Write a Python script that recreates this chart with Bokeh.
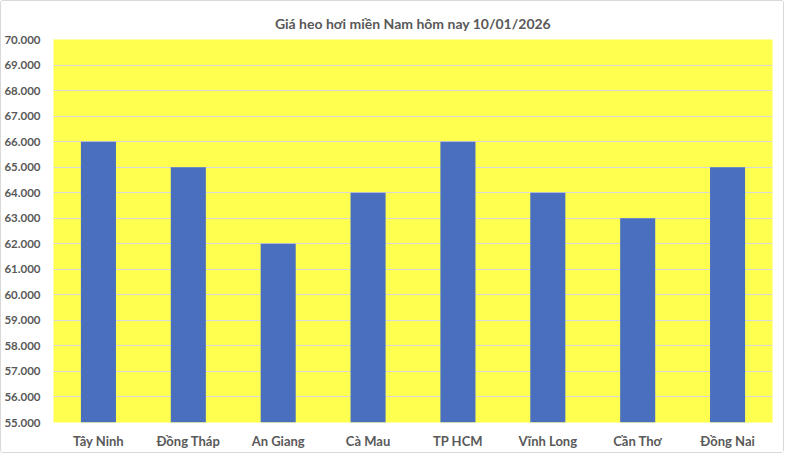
from bokeh.plotting import figure
from bokeh.embed import file_html
from bokeh.resources import INLINE
from bokeh.models import FixedTicker, Label

# data
provinces = ["Tây Ninh", "Đồng Tháp", "An Giang", "Cà Mau",
             "TP HCM", "Vĩnh Long", "Cần Thơ", "Đồng Nai"]
prices = [66000, 65000, 62000, 64000, 66000, 64000, 63000, 65000]
y_ticks = list(range(55000, 70001, 1000))

p = figure(x_range=provinces, y_range=(55000, 70000),
           width=784, height=453, output_backend="svg",
           toolbar_location=None,
           title="Giá heo hơi miền Nam hôm nay 10/01/2026")

p.vbar(x=provinces, top=prices, bottom=55000, width=0.39,
       color="#4A6FBF", line_color=None)

# frame placement
p.min_border_left = 50
p.min_border_right = 13
p.min_border_top = 38
p.min_border_bottom = 32

# colours
p.background_fill_color = "#FFFF4F"
p.border_fill_color = "white"
p.outline_line_color = None
p.styles = {"border": "1px solid #D9D9D9", "border-radius": "3px"}

# title
p.title.align = "center"
p.title.text_font = "Lato"
p.title.text_font_size = "14px"
p.title.text_font_style = "bold"
p.title.text_color = "#595959"
p.title.standoff = 16

# grid
p.xgrid.grid_line_color = None
p.ygrid.grid_line_color = "#D9D9D9"
p.ygrid.grid_line_width = 1

# axes
p.yaxis.ticker = FixedTicker(ticks=y_ticks)
p.yaxis.major_label_overrides = {v: f"{v:,}".replace(",", ".") for v in y_ticks}
p.axis.axis_line_color = None
p.axis.major_tick_line_color = None
p.axis.minor_tick_line_color = None
p.axis.major_label_text_font = "Lato"
p.axis.major_label_text_font_style = "bold"
p.axis.major_label_text_color = "#595959"
p.yaxis.major_label_text_font_size = "11.5px"
p.xaxis.major_label_text_font_size = "13px"
p.yaxis.major_label_standoff = 7
p.xaxis.major_label_standoff = 4

# "Cần Thơ" is set in a plain, larger face in the original
odd = "Cần Thơ"
p.xaxis.major_label_overrides = {odd: ""}
p.add_layout(Label(x=provinces.index(odd) + 0.5, y=55000, y_offset=-13,
                   text=odd, text_align="center", text_baseline="middle",
                   text_font="Lato", text_font_size="15px",
                   text_color="#595959"))

open("out.html", "w").write(file_html(p, INLINE))
